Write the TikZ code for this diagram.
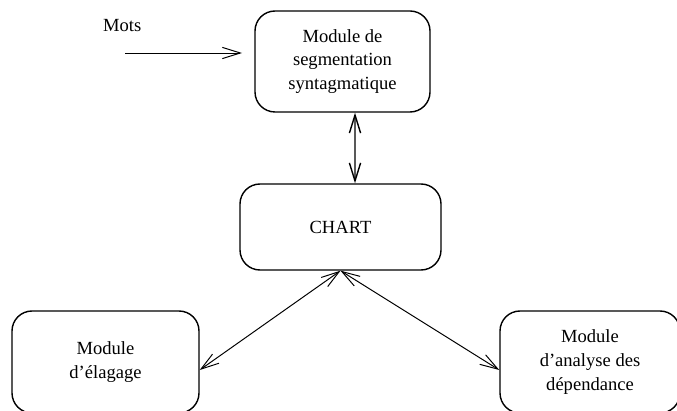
\documentclass[tikz,border=0pt]{standalone}
\usepackage{fontspec}
\setmainfont{Liberation Serif}
\usetikzlibrary{arrows.meta}

\begin{document}
\begin{tikzpicture}[
  module/.style={draw, rectangle, rounded corners=0.5cm, align=center, line width=1pt},
  >={Straight Barb[length=4.5mm, width=2.8mm]}, line width=0.7pt,
  every node/.style={font=\fontsize{13.2}{17}\selectfont}
]
\useasboundingbox (0,0) rectangle (16.925,10.25);
\node[module, minimum width=4.375cm, minimum height=2.525cm] (segment) at (8.5625,8.7125) {Module de\\segmentation\\syntagmatique};
\node[module, minimum width=5.025cm, minimum height=2.15cm]  (chart)   at (8.5125,4.575)  {CHART};
\node[module, minimum width=4.675cm, minimum height=2.55cm]  (elagage) at (2.6375,1.2)    {Module\\d’élagage};
\node[module, minimum width=4.5cm,   minimum height=2.55cm]  (dependance) at (14.75,1.2)  {Module\\d’analyse des\\dépendance};
\node[anchor=base west] (mots) at (2.45,9.45) {Mots};
\coordinate (motsin)  at (3.125,8.925);
\coordinate (motsout) at (6.05,8.925);

\draw[->]  (motsin) -- (motsout);
\draw[<->, line width=1pt] ([xshift=0.3125cm]segment.south) -- ([xshift=0.3625cm]chart.north);
\draw[<->] (chart.south) -- ([yshift=-0.2cm]elagage.east);
\draw[<->] (chart.south) -- ([yshift=-0.2cm]dependance.west);
\end{tikzpicture}
\end{document}
